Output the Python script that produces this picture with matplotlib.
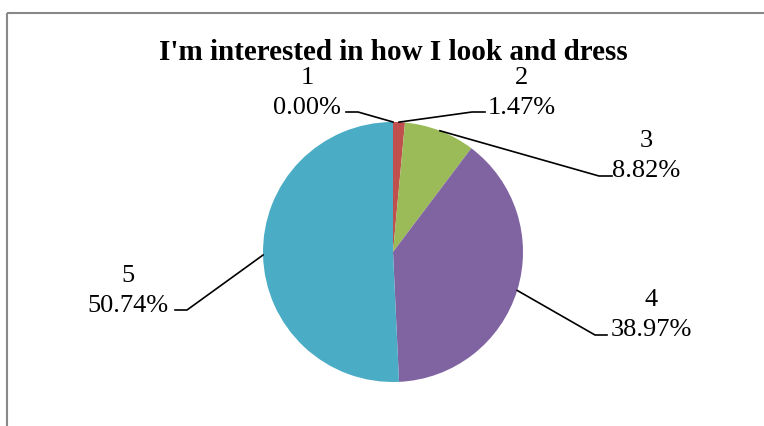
import numpy as np
import matplotlib.pyplot as plt

plt.rcParams['font.family'] = ['Liberation Serif', 'DejaVu Serif']

title = "I'm interested in how I look and dress"
cats = ['1', '2', '3', '4', '5']
shares = [0.00, 1.47, 8.82, 38.97, 50.74]
colors = ['#4F81BD', '#C0504D', '#9BBB59', '#8064A2', '#4BACC6']

W, H = 764, 427
fig = plt.figure(figsize=(W / 100, H / 100), dpi=100)
ax = fig.add_axes([0, 0, 1, 1])

cx, cy, r = 393, H - 253, 130
wedges, _ = ax.pie(shares, colors=colors, startangle=90, counterclock=False,
                   radius=r, center=(cx, cy), frame=True,
                   wedgeprops=dict(linewidth=0))
ax.set_xlim(0, W)
ax.set_ylim(0, H)
ax.set_aspect('equal')
ax.axis('off')

# frame (top and left edges visible)
ax.plot([7, W], [H - 14, H - 14], color='#888888', lw=1.5, solid_capstyle='butt')
ax.plot([7, 7], [H - 14, 0], color='#888888', lw=1.5, solid_capstyle='butt')

ax.text(cx, H - 52, title, ha='center', va='center', fontsize=21,
        fontweight='bold')

# label centers, elbow start/end (pixel coords, top-down y)
lab_pos = [(307, 93), (522, 93), (646, 156), (651, 315), (128, 291)]
elbows = [((358, 113), (346, 113)), ((472, 113), (485, 113)),
          ((599, 177), (612, 177)), ((595, 336), (607, 336)),
          ((187, 311), (175, 311))]

for w, c, s, (lx, ly), (e1, e2) in zip(wedges, cats, shares, lab_pos, elbows):
    mid = np.deg2rad((w.theta1 + w.theta2) / 2)
    px, py = cx + r * np.cos(mid), cy + r * np.sin(mid)
    ax.plot([px, e1[0], e2[0]], [py, H - e1[1], H - e2[1]], color='black', lw=1.2)
    ax.text(lx, H - ly, f"{c}\n{s:.2f}%", ha='center', va='center',
            fontsize=19, linespacing=1.45)

fig.savefig('out.png', dpi=100)
